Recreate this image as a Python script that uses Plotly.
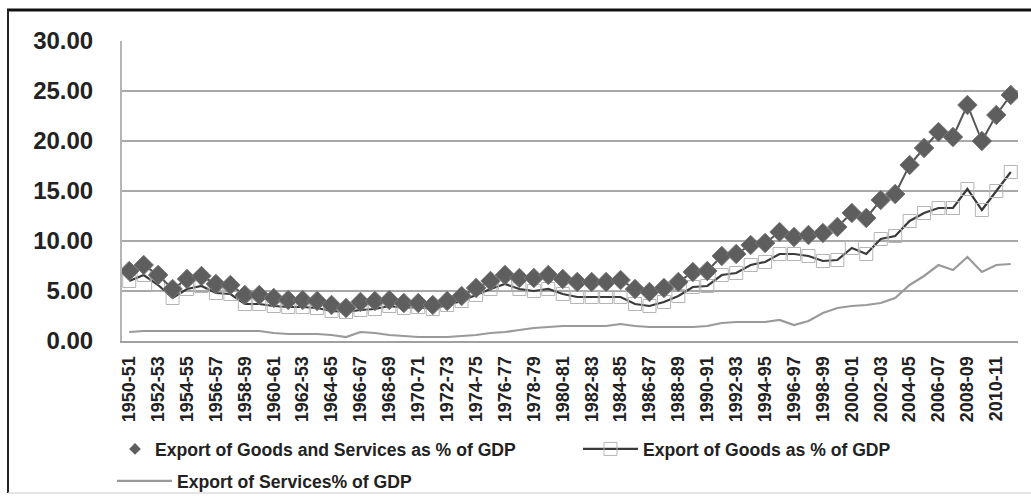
import plotly.graph_objects as go

years = [f"{y}-{(y + 1) % 100:02d}" for y in range(1950, 2012)]

goods_services = [7.0, 7.6, 6.6, 5.2, 6.2, 6.5, 5.7, 5.6, 4.6, 4.6,
                  4.3, 4.1, 4.1, 4.0, 3.6, 3.3, 3.9, 4.0, 4.1, 3.8,
                  3.8, 3.6, 4.0, 4.5, 5.3, 6.0, 6.6, 6.3, 6.3, 6.6,
                  6.2, 5.9, 5.9, 5.9, 6.1, 5.2, 4.9, 5.3, 5.9, 6.9,
                  7.0, 8.5, 8.7, 9.6, 9.8, 10.9, 10.4, 10.6, 10.8, 11.4,
                  12.8, 12.3, 14.1, 14.7, 17.6, 19.3, 20.9, 20.4, 23.6, 20.0,
                  22.6, 24.6]

goods = [6.0, 6.6, 5.6, 4.3, 5.2, 5.5, 4.8, 4.7, 3.7, 3.7,
         3.5, 3.4, 3.4, 3.3, 3.0, 2.9, 3.1, 3.2, 3.5, 3.3,
         3.4, 3.2, 3.6, 4.0, 4.6, 5.2, 5.7, 5.2, 5.0, 5.2,
         4.7, 4.4, 4.4, 4.4, 4.4, 3.7, 3.5, 3.9, 4.5, 5.4,
         5.5, 6.6, 6.8, 7.6, 7.9, 8.7, 8.7, 8.5, 8.0, 8.1,
         9.3, 8.7, 10.2, 10.5, 12.0, 12.8, 13.3, 13.3, 15.2, 13.1,
         15.0, 16.9]

services = [0.9, 1.0, 1.0, 1.0, 1.0, 1.0, 1.0, 1.0, 1.0, 1.0,
            0.8, 0.7, 0.7, 0.7, 0.6, 0.4, 0.9, 0.8, 0.6, 0.5,
            0.4, 0.4, 0.4, 0.5, 0.6, 0.8, 0.9, 1.1, 1.3, 1.4,
            1.5, 1.5, 1.5, 1.5, 1.7, 1.5, 1.4, 1.4, 1.4, 1.4,
            1.5, 1.8, 1.9, 1.9, 1.9, 2.1, 1.6, 2.0, 2.8, 3.3,
            3.5, 3.6, 3.8, 4.3, 5.6, 6.5, 7.6, 7.1, 8.4, 6.9,
            7.6, 7.7]

tick_vals = years[::2]
tick_text = [("1962-53" if y == "1962-63" else y) for y in tick_vals]

y_ticks = [0, 5, 10, 15, 20, 25, 30]
y_tick_text = [f"{v:.2f}" for v in y_ticks]

font_family = "Liberation Sans, Arial, sans-serif"
legend_font = dict(size=17.6, family=font_family, weight="bold", color="#222222")

fig = go.Figure()

# Services line
fig.add_trace(go.Scatter(
    x=years, y=services, mode="lines",
    line=dict(color="#9a9a9a", width=2.2),
    name="Export of Services% of GDP", legend="legend2",
))

# Goods line with open squares
fig.add_trace(go.Scatter(
    x=years, y=goods, mode="lines+markers",
    line=dict(color="#3a3a3a", width=2.2),
    marker=dict(symbol="square-open", size=13, color="#b5b5b5",
                line=dict(width=1, color="#b5b5b5")),
    name="Export of Goods as % of GDP", legend="legend3",
))

# Goods & services diamonds
fig.add_trace(go.Scatter(
    x=years, y=goods_services, mode="lines+markers",
    line=dict(color="#555555", width=2),
    marker=dict(symbol="diamond", size=15, color="#5e5e5e",
                line=dict(width=1, color="#777777")),
    name="Export of Goods and Services as % of GDP",
    showlegend=False,
))
# legend proxy for the diamond series
fig.add_trace(go.Scatter(
    x=[None], y=[None], mode="markers",
    marker=dict(symbol="diamond", size=9, color="#5e5e5e"),
    name="Export of Goods and Services as % of GDP", legend="legend",
))

W, H = 1031, 501
L, R, T, B = 122, 13, 41, 160
pw, ph = W - L - R, H - T - B

def px_x(p):
    return (p - L) / pw

def px_y(p):
    return (H - B - p) / ph

shapes = [
    dict(type="line", xref="paper", yref="paper", x0=px_x(7), x1=px_x(1031),
         y0=px_y(10), y1=px_y(10), line=dict(color="#111111", width=3)),
    dict(type="line", xref="paper", yref="paper", x0=px_x(8), x1=px_x(8),
         y0=px_y(10), y1=px_y(493), line=dict(color="#222222", width=2)),
    dict(type="line", xref="paper", yref="paper", x0=px_x(8), x1=px_x(1031),
         y0=px_y(493), y1=px_y(493), line=dict(color="#dddddd", width=1.5)),
]

fig.update_layout(
    width=W, height=H,
    margin=dict(l=L, r=R, t=T, b=B, pad=0, autoexpand=False),
    paper_bgcolor="white", plot_bgcolor="white",
    font=dict(family=font_family, color="#222222"),
    shapes=shapes,
    xaxis=dict(
        type="category", categoryorder="array", categoryarray=years,
        range=[-0.5, len(years) - 0.5], automargin=False,
        tickmode="array", tickvals=tick_vals, ticktext=tick_text,
        tickangle=-90, showgrid=False, zeroline=False,
        showline=True, linecolor="#a0a0a0", linewidth=2,
        ticks="", tickfont=dict(size=18, family=font_family, weight="bold", color="#222222"),
        ticklabelstandoff=6,
    ),
    yaxis=dict(
        range=[0, 30], tickmode="array", tickvals=y_ticks, ticktext=y_tick_text,
        automargin=False,
        showgrid=True, gridcolor="#a8a8a8", gridwidth=2,
        zeroline=False, showline=True, linecolor="#b5b5b5", linewidth=2,
        ticks="", ticklabelstandoff=22,
        tickfont=dict(size=24, family=font_family, weight="bold", color="#222222"),
    ),
    legend=dict(
        orientation="h", x=px_x(115), y=px_y(449), xanchor="left", yanchor="middle",
        font=legend_font, bgcolor="rgba(0,0,0,0)",
    ),
    legend3=dict(
        orientation="h", x=px_x(578), y=px_y(449), xanchor="left", yanchor="middle",
        font=legend_font, itemwidth=55, bgcolor="rgba(0,0,0,0)",
    ),
    legend2=dict(
        orientation="h", x=px_x(112), y=px_y(481), xanchor="left", yanchor="middle",
        font=legend_font, itemwidth=55, bgcolor="rgba(0,0,0,0)",
    ),
)

fig.write_html("out.html")
